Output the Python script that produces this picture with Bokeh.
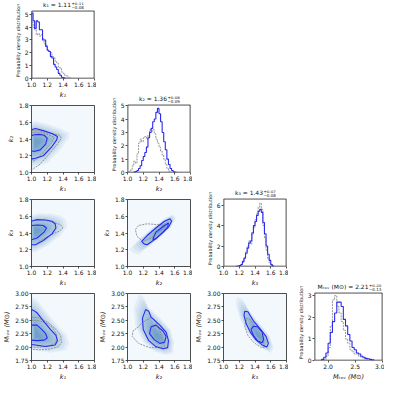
from bokeh.plotting import figure
from bokeh.layouts import row, column
from bokeh.models import Spacer, FixedTicker, Range1d, PrintfTickFormatter
from bokeh.core.properties import value
from bokeh.embed import file_html
from bokeh.resources import INLINE

# ---------------- data ----------------
k_ticks = [1.0, 1.2, 1.4, 1.6, 1.8]
m_ticks_y = [1.75, 2.0, 2.25, 2.5, 2.75, 3.0]
m_ticks_x = [2.0, 2.5, 3.0]

names = ["k₁", "k₂", "k₃", "Mₜₒᵥ (M⊙)"]
medians = [1.11, 1.36, 1.43, 2.21]
err_plus = [0.11, 0.08, 0.07, 0.20]
err_minus = [0.08, 0.09, 0.08, 0.13]

# histograms: first bin edge, bin width, densities
k1_blue_start, k1_grey_start, k_bin = 1.00, 1.00, 0.02
k1_blue = [5.1, 4.5, 3.9, 4.5, 4.4, 3.8, 3.8, 3.0, 3.0, 2.5, 2.2, 2.1, 1.7, 1.6,
           1.1, 0.9, 0.7, 0.4, 0.25, 0.1, 0.05, 0.02]
k1_grey = [4.4, 4.0, 3.8, 3.4, 3.5, 3.3, 3.4, 3.1, 2.7, 2.6, 2.2, 2.1, 2.0, 1.7,
           1.6, 1.3, 1.2, 0.9, 0.8, 0.5, 0.4, 0.25, 0.2, 0.1, 0.05]

k2_blue_start, k2_grey_start = 1.08, 1.02
k2_blue = [0.03, 0.08, 0.15, 0.3, 0.5, 0.9, 1.2, 1.5, 1.9, 2.6, 3.0, 3.3, 3.8, 4.0,
           4.5, 4.8, 4.4, 3.8, 3.0, 2.3, 1.7, 1.0, 0.6, 0.3, 0.15, 0.06, 0.02]
k2_grey = [0.05, 0.2, 0.5, 0.85, 0.7, 1.4, 2.2, 2.5, 2.3, 2.6, 2.7, 2.5, 2.8, 3.2,
           3.1, 3.2, 2.9, 2.5, 2.2, 1.9, 1.6, 1.3, 1.0, 0.6, 0.3, 0.1]

k3_blue_start, k3_grey_start = 1.16, 1.22
k3_blue = [0.02, 0.05, 0.1, 0.2, 0.5, 0.8, 1.3, 1.8, 2.3, 2.5, 3.3, 4.0, 4.4, 5.0,
           5.4, 5.6, 5.3, 4.3, 3.2, 2.0, 1.2, 0.6, 0.2, 0.05]
k3_grey = [0.1, 0.4, 0.9, 1.4, 2.0, 2.5, 2.2, 3.1, 3.8, 4.6, 5.2, 5.8, 6.2, 5.6,
           4.0, 2.8, 1.6, 0.8, 0.3, 0.1]

m_blue_start, m_grey_start, m_bin = 1.88, 1.92, 0.04
m_blue = [0.05, 0.15, 0.35, 0.8, 1.3, 1.8, 2.2, 2.7, 2.7, 2.5, 1.9, 1.6, 1.2, 0.9,
          0.6, 0.5, 0.35, 0.3, 0.2, 0.15, 0.1, 0.08, 0.05, 0.03]
m_grey = [0.05, 0.2, 0.6, 1.6, 2.8, 3.0, 2.5, 2.2, 1.8, 1.4, 1.0, 0.8, 0.5, 0.4,
          0.3, 0.3, 0.2, 0.15, 0.1, 0.05]

# 2D contours (x list, y list)
k1k2_outer = ([1.0, 1.05, 1.15, 1.26, 1.33, 1.32, 1.26, 1.15, 1.05, 1.0],
              [1.51, 1.525, 1.50, 1.465, 1.43, 1.39, 1.31, 1.20, 1.17, 1.16])
k1k2_inner = ([1.0, 1.03, 1.10, 1.16, 1.20, 1.18, 1.11, 1.03, 1.0],
              [1.44, 1.45, 1.455, 1.445, 1.41, 1.34, 1.27, 1.25, 1.26])
k1k2_grey = [([1.0, 1.09, 1.18, 1.35, 1.38, 1.33, 1.26, 1.11, 1.03, 1.0],
              [1.50, 1.50, 1.475, 1.45, 1.41, 1.34, 1.26, 1.10, 1.05, 1.03]),
             ([1.0, 1.10, 1.22, 1.29, 1.25, 1.15, 1.05, 1.0],
              [1.48, 1.48, 1.45, 1.42, 1.35, 1.24, 1.15, 1.13])]
k1k2_peak = (1.05, 1.36)

k1k3_outer = ([1.0, 1.07, 1.18, 1.26, 1.30, 1.31, 1.26, 1.15, 1.05, 1.0],
              [1.54, 1.56, 1.555, 1.54, 1.51, 1.46, 1.39, 1.31, 1.26, 1.26])
k1k3_inner = ([1.0, 1.08, 1.15, 1.19, 1.16, 1.07, 1.0],
              [1.49, 1.495, 1.49, 1.46, 1.41, 1.34, 1.32])
k1k3_grey = [([1.15, 1.20, 1.30, 1.37, 1.40, 1.35, 1.25, 1.15, 1.08],
              [1.555, 1.545, 1.52, 1.50, 1.46, 1.42, 1.38, 1.33, 1.29])]
k1k3_peak = (1.05, 1.42)

k2k3_outer = ([1.21, 1.18, 1.25, 1.36, 1.47, 1.54, 1.56, 1.52, 1.43, 1.34, 1.25, 1.21],
              [1.27, 1.30, 1.37, 1.46, 1.54, 1.57, 1.54, 1.47, 1.39, 1.32, 1.26, 1.27])
k2k3_inner = ([1.32, 1.36, 1.47, 1.52, 1.51, 1.45, 1.36, 1.32],
              [1.32, 1.41, 1.49, 1.52, 1.47, 1.41, 1.33, 1.32])
k2k3_grey = [([1.20, 1.12, 1.10, 1.14, 1.25, 1.38, 1.45, 1.40, 1.30, 1.20],
              [1.30, 1.36, 1.44, 1.49, 1.51, 1.50, 1.50, 1.42, 1.34, 1.30])]
k2k3_peak = (1.46, 1.47)

k1m_outer = ([1.0, 1.01, 1.07, 1.15, 1.24, 1.31, 1.33, 1.30, 1.18, 1.05, 1.0],
             [2.68, 2.70, 2.64, 2.49, 2.33, 2.22, 2.12, 2.04, 2.01, 2.04, 2.05])
k1m_inner = ([1.0, 1.07, 1.13, 1.18, 1.20, 1.16, 1.07, 1.0],
             [2.41, 2.41, 2.33, 2.25, 2.17, 2.13, 2.12, 2.13])
k1m_grey = [([1.0, 1.08, 1.20, 1.30, 1.37, 1.38, 1.33, 1.22, 1.10, 1.0],
             [2.56, 2.55, 2.47, 2.35, 2.22, 2.08, 2.0, 1.96, 1.95, 1.96]),
            ([1.0, 1.10, 1.20, 1.27, 1.32, 1.31, 1.23, 1.12, 1.0],
             [2.50, 2.49, 2.44, 2.36, 2.24, 2.09, 2.03, 2.00, 2.0])]
k1m_peak = (1.06, 2.22)

k2m_outer = ([1.23, 1.27, 1.30, 1.41, 1.49, 1.52, 1.51, 1.45, 1.36, 1.27, 1.20, 1.19, 1.23],
             [2.70, 2.67, 2.56, 2.41, 2.28, 2.12, 1.99, 1.97, 2.01, 2.12, 2.33, 2.54, 2.70])
k2m_inner = ([1.30, 1.36, 1.45, 1.49, 1.47, 1.41, 1.34, 1.28, 1.30],
             [2.38, 2.41, 2.30, 2.20, 2.09, 2.07, 2.14, 2.25, 2.38])
k2m_grey = [([1.25, 1.30, 1.34, 1.39, 1.43, 1.47, 1.40, 1.28, 1.14, 1.06, 1.07, 1.14, 1.19, 1.25],
             [2.51, 2.55, 2.51, 2.38, 2.22, 2.01, 1.99, 1.99, 2.07, 2.20, 2.30, 2.38, 2.46, 2.51])]
k2m_peak = (1.39, 2.18)

k3m_outer = ([1.27, 1.31, 1.38, 1.47, 1.54, 1.57, 1.55, 1.49, 1.41, 1.34, 1.29, 1.26, 1.27],
             [2.67, 2.66, 2.49, 2.33, 2.20, 2.07, 2.0, 2.04, 2.14, 2.28, 2.43, 2.59, 2.67])
k3m_inner = ([1.38, 1.43, 1.49, 1.51, 1.49, 1.43, 1.38, 1.35, 1.38],
             [2.39, 2.38, 2.28, 2.14, 2.08, 2.12, 2.22, 2.33, 2.39])
k3m_grey = [([1.29, 1.34, 1.43, 1.50, 1.52, 1.47, 1.38, 1.31, 1.27, 1.29],
             [2.54, 2.51, 2.33, 2.17, 1.99, 2.0, 2.09, 2.22, 2.38, 2.54])]
k3m_peak = (1.45, 2.2)

# ---------------- style / layout ----------------
BLUE = "#2a2af0"
GREY = "#8a8a8a"
SHADE = "#2171b5"
BG2D = "#f3f8fd"
EDGE = "#222222"
FONT = "DejaVu Sans"
W_L, W_F, W_R = 26, 68, 2
H_TD, H_T, H_F, H_B = 11, 4, 71, 19
shade_scales = [1.55, 1.4, 1.26, 1.13, 1.0, 0.88, 0.76, 0.64, 0.52, 0.41, 0.3, 0.2]

K_RANGE = (1.0, 1.8)
M_RANGE = (1.75, 3.0)


def style_axes(p, xticks, yticks, xfmt, yfmt, xlabel, ylabel):
    p.grid.visible = False
    p.xaxis.ticker = FixedTicker(ticks=xticks)
    p.yaxis.ticker = FixedTicker(ticks=yticks)
    p.xaxis.formatter = PrintfTickFormatter(format=xfmt)
    p.yaxis.formatter = PrintfTickFormatter(format=yfmt)
    p.xaxis.axis_label = xlabel
    p.yaxis.axis_label = ylabel
    for ax in (p.xaxis[0], p.yaxis[0]):
        ax.axis_line_color = None
        ax.major_tick_out = 2
        ax.major_tick_in = 0
        ax.minor_tick_out = 0
        ax.minor_tick_in = 0
        ax.major_tick_line_color = EDGE
        ax.major_tick_line_width = 0.8
        ax.major_label_text_font = FONT
        ax.major_label_text_font_size = "6px"
        ax.major_label_text_color = "#111111"
        ax.axis_label_text_font = FONT
        ax.axis_label_text_font_size = "6.5px"
        ax.axis_label_text_font_style = "italic"
        ax.axis_label_text_color = "#111111"
        ax.major_label_standoff = 1
        ax.axis_label_standoff = 1


def make_2d(xr, yr, xticks, yticks, xfmt, yfmt, xlabel, ylabel):
    p = figure(width=W_L + W_F + W_R, height=H_T + H_F + H_B,
               x_range=Range1d(*xr), y_range=Range1d(*yr),
               output_backend="svg", toolbar_location=None,
               min_border_left=W_L, min_border_right=W_R,
               min_border_top=H_T, min_border_bottom=H_B)
    p.outline_line_color = EDGE
    p.outline_line_width = 0.8
    p.background_fill_color = BG2D
    style_axes(p, xticks, yticks, xfmt, yfmt, xlabel, ylabel)
    return p


def make_diag(i, xr, ytop, xticks, yticks, xfmt):
    # the frame is extended upward by the title band; the histogram box is drawn
    frame_h = H_F + H_TD - 2
    yend = ytop * frame_h / H_F
    p = figure(width=W_L + W_F + W_R, height=H_TD + H_F + H_B,
               x_range=Range1d(*xr), y_range=Range1d(0, yend),
               output_backend="svg", toolbar_location=None,
               min_border_left=W_L, min_border_right=W_R,
               min_border_top=2, min_border_bottom=H_B)
    p.outline_line_color = None
    style_axes(p, xticks, yticks, xfmt, "%d", names[i], "Probability density distribution")
    p.yaxis[0].axis_label_text_font_style = "normal"
    p.yaxis[0].axis_label_text_font_size = "4.8px"
    # left, right and bottom edges sit on the frame border (half clipped)
    p.multi_line(xs=[[xr[0], xr[0]], [xr[1], xr[1]], [xr[0], xr[1]]],
                 ys=[[0, ytop], [0, ytop], [0, 0]], line_color=EDGE, line_width=1.6)
    p.line([xr[0], xr[1]], [ytop, ytop], line_color=EDGE, line_width=0.8)
    return p


def add_title(p, i, xr, ytop, shift):
    cx = 0.5 * (xr[0] + xr[1])
    p.text(x=[cx], y=[ytop], text=[f"{names[i]} = {medians[i]:.2f}"], x_offset=shift,
           y_offset=-3, text_align="right", text_baseline="bottom",
           text_font=value(FONT), text_font_size="6px", text_color="#111111")
    p.text(x=[cx], y=[ytop], text=[f"+{err_plus[i]:.2f}"], x_offset=shift + 0.5,
           y_offset=-6.3, text_align="left", text_baseline="bottom",
           text_font=value(FONT), text_font_size="4px", text_color="#111111")
    p.text(x=[cx], y=[ytop], text=[f"\u2212{err_minus[i]:.2f}"], x_offset=shift + 0.5,
           y_offset=-1.8, text_align="left", text_baseline="bottom",
           text_font=value(FONT), text_font_size="4px", text_color="#111111")


def step_xy(start, width, vals):
    edges = [start + width * j for j in range(len(vals) + 1)]
    xs = [edges[0]] + edges
    ys = [0.0] + list(vals) + [0.0]
    return xs, ys


def draw_hist(p, blue, grey):
    gx, gy = step_xy(*grey)
    p.step(gx, gy, mode="after", line_color=GREY, line_dash="2 1", line_width=0.9)
    bx, by = step_xy(*blue)
    p.step(bx, by, mode="after", line_color=BLUE, line_width=1.1)


def draw_2d(p, outer, inner, greys, peak):
    ox, oy = outer
    px, py = peak
    for s in shade_scales:
        xs = [px + s * (x - px) for x in ox]
        ys = [py + s * (y - py) for y in oy]
        p.patch(xs, ys, fill_color=SHADE, fill_alpha=0.08, line_color=None)
    for gx, gy in greys:
        p.line(gx, gy, line_color=GREY, line_dash="2 1", line_width=0.9)
    p.line(ox, oy, line_color=BLUE, line_width=1.1)
    p.line(inner[0], inner[1], line_color=BLUE, line_width=1.1)


KF, MF = "%.1f", "%.2f"

# diagonal panels
d1_top = 5.25
d1 = make_diag(0, K_RANGE, d1_top, k_ticks, [0, 1, 2, 3, 4, 5], KF)
draw_hist(d1, (k1_blue_start, k_bin, k1_blue), (k1_grey_start, k_bin, k1_grey))
add_title(d1, 0, K_RANGE, d1_top, 8)

d2_top = 5.05
d2 = make_diag(1, K_RANGE, d2_top, k_ticks, [0, 1, 2, 3, 4, 5], KF)
draw_hist(d2, (k2_blue_start, k_bin, k2_blue), (k2_grey_start, k_bin, k2_grey))
add_title(d2, 1, K_RANGE, d2_top, 8)

d3_top = 6.6
d3 = make_diag(2, K_RANGE, d3_top, k_ticks, [0, 2, 4, 6], KF)
draw_hist(d3, (k3_blue_start, k_bin, k3_blue), (k3_grey_start, k_bin, k3_grey))
add_title(d3, 2, K_RANGE, d3_top, 8)

d4_top = 3.12
d4 = make_diag(3, M_RANGE, d4_top, m_ticks_x, [0, 1, 2, 3], KF)
draw_hist(d4, (m_blue_start, m_bin, m_blue), (m_grey_start, m_bin, m_grey))
add_title(d4, 3, M_RANGE, d4_top, 20)

# off-diagonal panels
p21 = make_2d(K_RANGE, K_RANGE, k_ticks, k_ticks, KF, KF, names[0], names[1])
draw_2d(p21, k1k2_outer, k1k2_inner, k1k2_grey, k1k2_peak)
p31 = make_2d(K_RANGE, K_RANGE, k_ticks, k_ticks, KF, KF, names[0], names[2])
draw_2d(p31, k1k3_outer, k1k3_inner, k1k3_grey, k1k3_peak)
p32 = make_2d(K_RANGE, K_RANGE, k_ticks, k_ticks, KF, KF, names[1], names[2])
draw_2d(p32, k2k3_outer, k2k3_inner, k2k3_grey, k2k3_peak)
p41 = make_2d(K_RANGE, M_RANGE, k_ticks, m_ticks_y, KF, MF, names[0], names[3])
draw_2d(p41, k1m_outer, k1m_inner, k1m_grey, k1m_peak)
p42 = make_2d(K_RANGE, M_RANGE, k_ticks, m_ticks_y, KF, MF, names[1], names[3])
draw_2d(p42, k2m_outer, k2m_inner, k2m_grey, k2m_peak)
p43 = make_2d(K_RANGE, M_RANGE, k_ticks, m_ticks_y, KF, MF, names[2], names[3])
draw_2d(p43, k3m_outer, k3m_inner, k3m_grey, k3m_peak)

CW = W_L + W_F + W_R
PITCH = H_T + H_F + H_B
col1 = column(d1, p21, p31, p41)
col2 = column(Spacer(width=CW, height=PITCH), d2, p32, p42)
col3 = column(Spacer(width=CW, height=2 * PITCH), d3, p43)
col4 = column(Spacer(width=CW, height=3 * PITCH), d4)
layout = row(col1, col2, col3, col4)

open("out.html", "w").write(file_html(layout, INLINE))
